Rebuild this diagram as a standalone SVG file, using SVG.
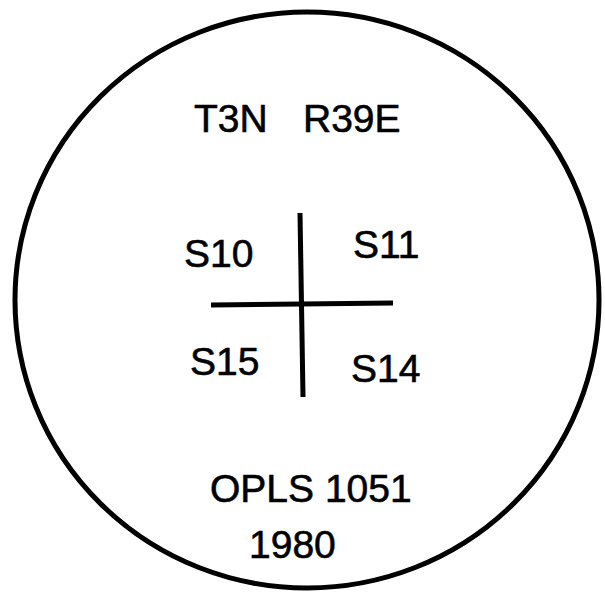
<svg xmlns="http://www.w3.org/2000/svg" width="605" height="592" viewBox="0 0 605 592">
<style>
.t{font-family:"Liberation Sans",Arial,sans-serif;font-size:39px;fill:#000;stroke:#000;stroke-width:0.6}
.ln{stroke:#000;stroke-width:5;fill:none;stroke-linecap:butt}
</style>
<rect width="605" height="592" fill="#fff"/>
<g id="outline">
<ellipse cx="307" cy="300" rx="292" ry="288" fill="none" stroke="#000" stroke-width="5"/>
</g>
<g id="header">
<text class="t" x="194" y="132">T3N</text>
<text class="t" x="303" y="132">R39E</text>
</g>
<g id="connectors">
<line class="ln" x1="300" y1="213" x2="303" y2="397"/>
<line class="ln" x1="211" y1="305" x2="393" y2="303"/>
</g>
<g id="s10"><text class="t" x="184" y="267">S10</text></g>
<g id="s11"><text class="t" x="353" y="258">S11</text></g>
<g id="s15"><text class="t" x="190" y="375">S15</text></g>
<g id="s14"><text class="t" x="351" y="382">S14</text></g>
<g id="footer">
<text class="t" x="210" y="502">OPLS 1051</text>
<text class="t" x="249" y="558">1980</text>
</g>
</svg>
